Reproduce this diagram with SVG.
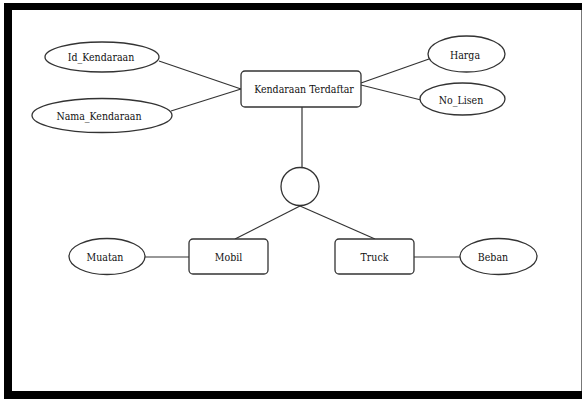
<svg xmlns="http://www.w3.org/2000/svg" width="585" height="399" viewBox="0 0 585 399">
  <style>
    .shape { fill: #ffffff; stroke: #333333; stroke-width: 1.3; }
    .link { stroke: #333333; stroke-width: 1.2; fill: none; }
    .label { font-family: 'DejaVu Serif', 'Liberation Serif', serif; font-stretch: condensed; font-size: 10.5px; fill: #111111; text-anchor: middle; }
  </style>
  <rect width="585" height="399" fill="#ffffff"/>
  <!-- page frame: heavy black border, thin line on the right -->
  <rect x="4" y="3" width="578" height="396" fill="#000000"/>
  <rect x="12" y="10" width="569" height="381" fill="#ffffff"/>
  <line x1="581.5" y1="10" x2="581.5" y2="391" stroke="#777777" stroke-width="1"/>

  <g id="connectors">
    <line class="link" x1="159" y1="61" x2="241" y2="89"/>
    <line class="link" x1="171" y1="111" x2="241" y2="89"/>
    <line class="link" x1="361" y1="83" x2="429" y2="59"/>
    <line class="link" x1="361" y1="85" x2="421" y2="100"/>
    <line class="link" x1="302" y1="107" x2="302" y2="168"/>
    <line class="link" x1="300" y1="206" x2="235" y2="239"/>
    <line class="link" x1="300" y1="206" x2="375" y2="239"/>
    <line class="link" x1="145" y1="257" x2="189" y2="257"/>
    <line class="link" x1="414" y1="257" x2="460" y2="257"/>
  </g>

  <g id="kendaraan-terdaftar">
    <rect class="shape" x="241" y="71" width="120" height="36" rx="4"/>
    <text class="label" x="304" y="93">Kendaraan Terdaftar</text>
  </g>
  <g id="id-kendaraan">
    <ellipse class="shape" cx="102" cy="57" rx="57" ry="15"/>
    <text class="label" x="101" y="61">Id_Kendaraan</text>
  </g>
  <g id="nama-kendaraan">
    <ellipse class="shape" cx="102" cy="115.5" rx="70" ry="17"/>
    <text class="label" x="99" y="119.5">Nama_Kendaraan</text>
  </g>
  <g id="harga">
    <ellipse class="shape" cx="466.5" cy="54" rx="38.5" ry="18"/>
    <text class="label" x="465" y="58.5">Harga</text>
  </g>
  <g id="no-lisen">
    <ellipse class="shape" cx="462.5" cy="99" rx="42.5" ry="16"/>
    <text class="label" x="461" y="103.5">No_Lisen</text>
  </g>
  <g id="isa">
    <circle class="shape" cx="300" cy="186.5" r="19"/>
  </g>
  <g id="mobil">
    <rect class="shape" x="189" y="239" width="79" height="35" rx="4"/>
    <text class="label" x="228.5" y="261">Mobil</text>
  </g>
  <g id="truck">
    <rect class="shape" x="335" y="239" width="79" height="35" rx="4"/>
    <text class="label" x="374.5" y="261">Truck</text>
  </g>
  <g id="muatan">
    <ellipse class="shape" cx="107" cy="256.5" rx="38" ry="18"/>
    <text class="label" x="105" y="261">Muatan</text>
  </g>
  <g id="beban">
    <ellipse class="shape" cx="498.5" cy="256.5" rx="38.5" ry="18"/>
    <text class="label" x="493" y="261">Beban</text>
  </g>
</svg>
